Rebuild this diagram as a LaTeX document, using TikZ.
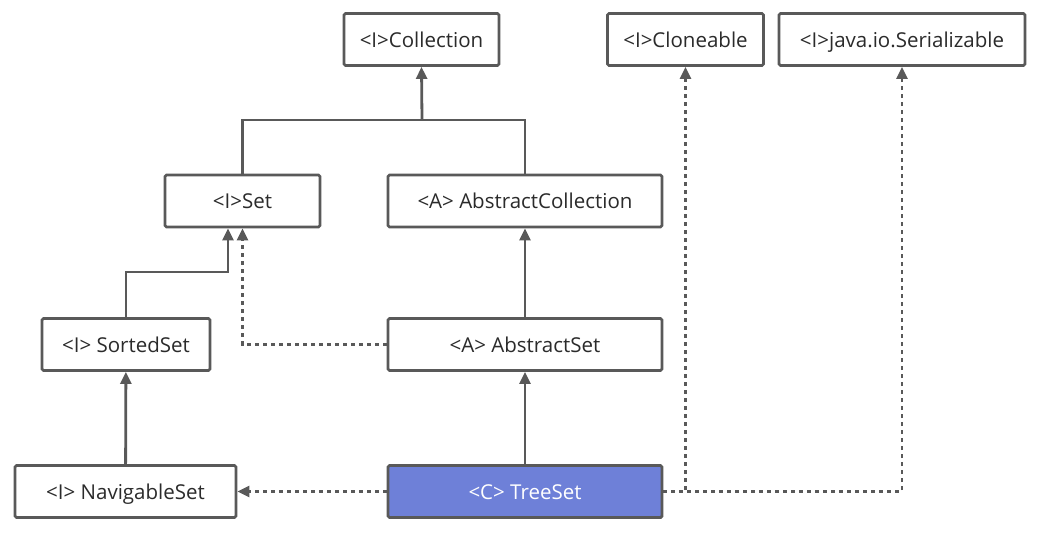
\documentclass[tikz,border=0pt]{standalone}
\usepackage{fontspec}
\setmainfont{Open Sans}
\usetikzlibrary{arrows.meta}
\definecolor{linegray}{HTML}{595959}
\definecolor{textgray}{HTML}{2B2B2B}
\definecolor{treeblue}{HTML}{6E80D8}
\begin{document}
\begin{tikzpicture}[x=1pt,y=-1pt,
  box/.style={draw=linegray, line width=2.8pt, rounded corners=1.5pt, fill=white,
    minimum height=52pt, inner sep=0pt, text=textgray,
    text height=15.5pt, text depth=0pt,
    font=\fontsize{20.5}{24}\selectfont},
  ext/.style={draw=linegray, line width=2.8pt, -{Triangle[width=11pt,length=12pt]}},
  impl/.style={ext, dash pattern=on 4pt off 4pt}]
\useasboundingbox (0,0) rectangle (1049,550);
% top row
\node[box, minimum width=155pt](coll) at (421.5,39.5){<I>Collection};
\node[box, minimum width=156pt](clone) at (685.5,39.5){<I>Cloneable};
\node[box, minimum width=246pt](ser) at (902,39.5){<I>java.io.Serializable};
% second row
\node[box, minimum width=155pt](set) at (242.5,201){<I>Set};
\node[box, minimum width=274pt](abscoll) at (525,201){<A> AbstractCollection};
% third row
\node[box, minimum width=168pt](sorted) at (126,344.5){<I> SortedSet};
\node[box, minimum width=274pt](absset) at (525,344.5){<A> AbstractSet};
% bottom row
\node[box, minimum width=221pt](nav) at (125.5,491.5){<I> NavigableSet};
\node[box, minimum width=274pt, fill=treeblue, text=white](tree) at (525,491.5){<C> TreeSet};
% extends
\coordinate (j) at (422,120);
\draw[draw=linegray, line width=2.8pt] (set.north) |- (j) -| (abscoll.north);
\draw[ext] (j) -- (coll.south);
\coordinate (k) at (228,272);
\draw[ext] (sorted.north) |- (k) -- (k |- set.south);
\draw[ext] (absset) -- (abscoll);
\draw[ext] (tree) -- (absset);
\draw[ext] (nav) -- (sorted);
% implements
\draw[impl] (absset.west) -| (set.south);
\draw[impl] (tree.west) -- (nav.east);
\draw[impl] (tree.east) -| (clone.south);
\draw[impl] (tree.east) -| (ser.south);
\end{tikzpicture}
\end{document}
